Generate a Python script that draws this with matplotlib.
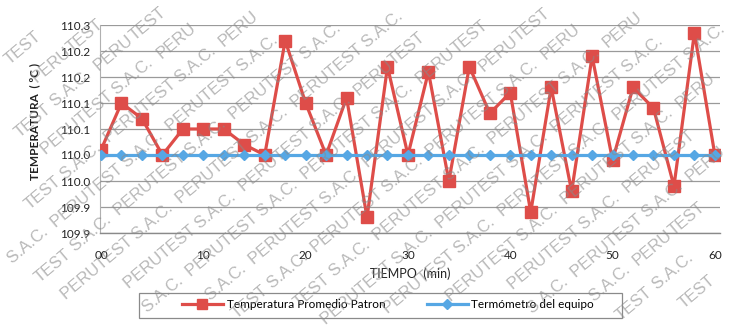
import numpy as np
import matplotlib
matplotlib.use("Agg")
import matplotlib.pyplot as plt
from matplotlib.patches import Rectangle
from matplotlib.lines import Line2D

plt.rcParams['font.family'] = ['Lato', 'DejaVu Sans']

# Time axis (minutes) and readings (deg C)
tiempo = list(range(0, 61, 2))
patron = [110.04, 110.13, 110.10, 110.03, 110.08, 110.08, 110.08, 110.05,
          110.03, 110.25, 110.13, 110.03, 110.14, 109.91, 110.20, 110.03,
          110.19, 109.98, 110.20, 110.11, 110.15, 109.92, 110.16, 109.96,
          110.22, 110.02, 110.16, 110.12, 109.97, 110.265, 110.03]
equipo = [110.03] * len(tiempo)

x_ticks = [0, 10, 20, 30, 40, 50, 60]
y_ticks = [109.88 + 0.05 * k for k in range(9)]

serie_patron = "Temperatura Promedio Patron"
serie_equipo = "Termómetro del equipo"
watermark = "PERUTEST S.A.C."
# pieces of the watermark that may be drawn on their own near the edges
watermark_pieces = ["PERU", "TEST", " S.A.C."]

RED = "#de4d49"
BLUE = "#56a7e4"
W, H = 731, 330

fig = plt.figure(figsize=(W / 100, H / 100), dpi=100)
ax = fig.add_axes([100 / W, 97 / H, 620 / W, 208 / H])

ax.plot(tiempo, patron, color=RED, lw=2.3, marker="s", ms=8,
        mec=RED, mfc=RED, zorder=3, label=serie_patron)
ax.plot(tiempo, equipo, color=BLUE, lw=2.3, marker="D", ms=5.5,
        mec=BLUE, mfc=BLUE, zorder=4, label=serie_equipo)

ax.set_xlim(-0.1, 60.5)
ax.set_ylim(y_ticks[0], y_ticks[-1])
ax.set_xticks(x_ticks)
ax.set_xticklabels([f"{v:02d}" for v in x_ticks])
ax.set_yticks(y_ticks)
ax.set_yticklabels([f"{v:.1f}" for v in y_ticks])
ax.tick_params(axis="both", length=0, labelsize=8.5, colors="#222222", pad=7)
ax.tick_params(axis="x", pad=12)

ax.grid(axis="y", color="#9a9a9a", lw=0.9)
for s in ["top", "right"]:
    ax.spines[s].set_visible(False)
ax.spines["left"].set_color("#b0b0b0")
ax.spines["bottom"].set_color("#8a8a8a")
ax.spines["bottom"].set_linewidth(1.0)

ax.set_xlabel("TIEMPO  (min)", fontsize=9, color="#222222", labelpad=5)
fig.text(35 / W, 1 - 121 / H, "TEMPERATURA  ( ºC )", rotation=90,
         ha="center", va="center", fontsize=8.5, fontweight="bold",
         color="#222222")

# Legend: framed box below the plot
fig.patches.append(Rectangle((139 / W, 1 - 318 / H), 483 / W, 25 / H,
                             transform=fig.transFigure, fill=False,
                             ec="#8a8a8a", lw=0.9, zorder=1))
handles = [Line2D([], [], color=RED, lw=2.3, marker="s", ms=7),
           Line2D([], [], color=BLUE, lw=2.3, marker="D", ms=5)]
fig.legend(handles, [serie_patron, serie_equipo], loc="center",
           bbox_to_anchor=(388 / W, 1 - 305 / H), ncol=2, frameon=False,
           fontsize=8.5, handlelength=3.5, handletextpad=0.3,
           columnspacing=3.5)

# Diagonal watermark repeated along parallel lines
deg = 40
ang = np.deg2rad(deg)
u = np.array([np.cos(ang), np.sin(ang)])
v = np.array([-np.sin(ang), np.cos(ang)])
wm_style = dict(fontsize=12, color="#8a8a8a", alpha=0.6, zorder=10,
                family=["Liberation Sans", "DejaVu Sans"])

renderer = fig.canvas.get_renderer()
probe = fig.text(0, 0, "", **wm_style)
offsets = []
acc = ""
for piece in watermark_pieces:
    probe.set_text(acc if acc else " ")
    offsets.append(probe.get_window_extent(renderer).width if acc else 0.0)
    acc += piece
probe.set_text(watermark + "  ")
period = probe.get_window_extent(renderer).width
probe.remove()


def inside(t):
    bb = t.get_window_extent(renderer)
    return bb.x0 >= 0 and bb.y0 >= 0 and bb.x1 <= W and bb.y1 <= H


def place(q, s):
    return fig.text(q[0] / W, q[1] / H, s, rotation=deg,
                    rotation_mode="anchor", ha="left", va="center",
                    **wm_style)


origin = np.array([W / 2, H / 2])
row_gap = 31
for i in range(-18, 19):
    shift = (0.5 * (i % 2) + 0.13 * i) % 1.0 * period
    for j in range(-7, 8):
        p = origin + i * row_gap * v + (j * period + shift) * u
        whole = place(p, watermark)
        if inside(whole):
            continue
        whole.remove()
        for piece, off in zip(watermark_pieces, offsets):
            t = place(p + off * u, piece)
            if not inside(t):
                t.remove()

fig.savefig("out.png", dpi=100)
